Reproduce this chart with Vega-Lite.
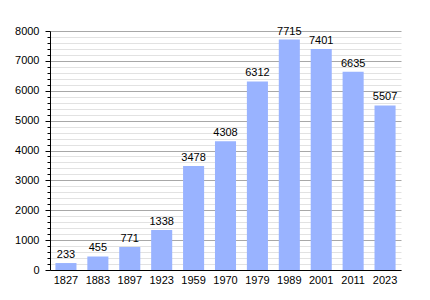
{
  "$schema": "https://vega.github.io/schema/vega-lite/v6.json",
  "autosize": "none",
  "width": 351,
  "height": 239,
  "padding": {"left": 50, "top": 31, "right": 29, "bottom": 30},
  "background": "white",
  "config": {
    "view": {"stroke": null},
    "font": "Liberation Sans",
    "axis": {"labelFont": "Liberation Sans", "labelFontSize": 11, "labelColor": "#000", "domainColor": "#000", "titleFont": "Liberation Sans"}
  },
  "data": {"values": [
    {"year": "1827", "pop": 233},
    {"year": "1883", "pop": 455},
    {"year": "1897", "pop": 771},
    {"year": "1923", "pop": 1338},
    {"year": "1959", "pop": 3478},
    {"year": "1970", "pop": 4308},
    {"year": "1979", "pop": 6312},
    {"year": "1989", "pop": 7715},
    {"year": "2001", "pop": 7401},
    {"year": "2011", "pop": 6635},
    {"year": "2023", "pop": 5507}
  ]},
  "encoding": {
    "x": {"field": "year", "type": "nominal", "sort": null,
      "scale": {"paddingInner": 0.34, "paddingOuter": 0.17},
      "axis": {"title": null, "labelAngle": 0, "ticks": false, "labelPadding": 4, "grid": false, "domainWidth": 1}},
    "y": {"field": "pop", "type": "quantitative",
      "scale": {"domain": [0, 8000], "nice": false},
      "axis": {"title": null,
        "values": [0,200,400,600,800,1000,1200,1400,1600,1800,2000,2200,2400,2600,2800,3000,3200,3400,3600,3800,4000,4200,4400,4600,4800,5000,5200,5400,5600,5800,6000,6200,6400,6600,6800,7000,7200,7400,7600,7800,8000],
        "labelExpr": "datum.value % 1000 === 0 ? datum.label : ''",
        "format": "d",
        "grid": true,
        "gridColor": {"condition": {"test": "datum.value % 1000 === 0", "value": "#a8a8a8"}, "value": "#e2e2e2"},
        "tickColor": "#000",
        "tickSize": {"condition": {"test": "datum.value % 1000 === 0", "value": 5}, "value": 3},
        "labelPadding": 6,
        "domainWidth": 1}}
  },
  "layer": [
    {"mark": {"type": "bar", "color": "#99b3ff"}},
    {"mark": {"type": "text", "baseline": "bottom", "dy": -3, "fontSize": 11, "color": "#000"},
     "encoding": {"text": {"field": "pop", "type": "quantitative", "format": "d"}}}
  ]
}
